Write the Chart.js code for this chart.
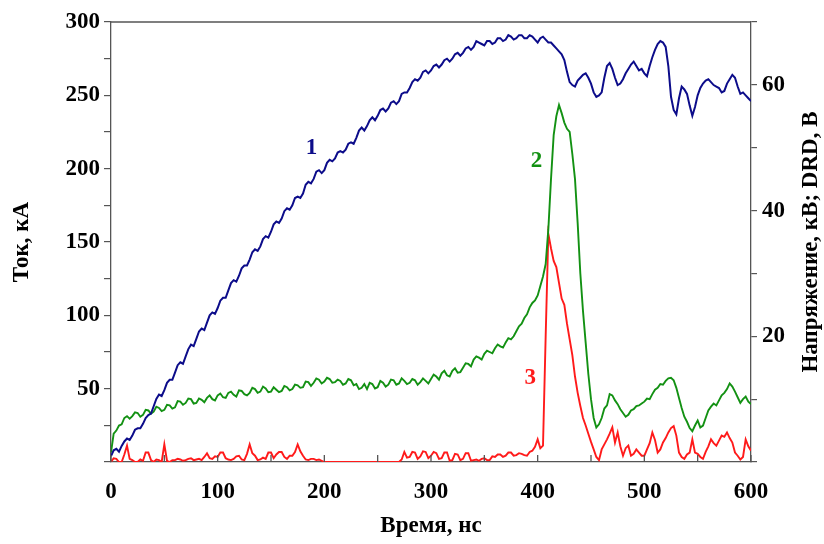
<!DOCTYPE html>
<html>
<head>
<meta charset="utf-8">
<script src="https://cdn.jsdelivr.net/npm/chart.js@4"></script>
<style>
  html, body { margin: 0; padding: 0; background: #fff; }
  #wrap { width: 824px; height: 544px; }
</style>
</head>
<body>
<div id="wrap"><canvas id="chart-area"></canvas></div>
<script>
/* time axis, ns (2.5 ns step) */
var time = [
  0, 2.5, 5, 7.5, 10, 12.5, 15, 17.5, 20, 22.5, 25, 27.5, 30, 32.5, 35, 37.5, 40, 42.5, 45, 47.5,
  50, 52.5, 55, 57.5, 60, 62.5, 65, 67.5, 70, 72.5, 75, 77.5, 80, 82.5, 85, 87.5, 90, 92.5, 95, 97.5,
  100, 102.5, 105, 107.5, 110, 112.5, 115, 117.5, 120, 122.5, 125, 127.5, 130, 132.5, 135, 137.5, 140, 142.5, 145, 147.5,
  150, 152.5, 155, 157.5, 160, 162.5, 165, 167.5, 170, 172.5, 175, 177.5, 180, 182.5, 185, 187.5, 190, 192.5, 195, 197.5,
  200, 202.5, 205, 207.5, 210, 212.5, 215, 217.5, 220, 222.5, 225, 227.5, 230, 232.5, 235, 237.5, 240, 242.5, 245, 247.5,
  250, 252.5, 255, 257.5, 260, 262.5, 265, 267.5, 270, 272.5, 275, 277.5, 280, 282.5, 285, 287.5, 290, 292.5, 295, 297.5,
  300, 302.5, 305, 307.5, 310, 312.5, 315, 317.5, 320, 322.5, 325, 327.5, 330, 332.5, 335, 337.5, 340, 342.5, 345, 347.5,
  350, 352.5, 355, 357.5, 360, 362.5, 365, 367.5, 370, 372.5, 375, 377.5, 380, 382.5, 385, 387.5, 390, 392.5, 395, 397.5,
  400, 402.5, 405, 407.5, 410, 412.5, 415, 417.5, 420, 422.5, 425, 427.5, 430, 432.5, 435, 437.5, 440, 442.5, 445, 447.5,
  450, 452.5, 455, 457.5, 460, 462.5, 465, 467.5, 470, 472.5, 475, 477.5, 480, 482.5, 485, 487.5, 490, 492.5, 495, 497.5,
  500, 502.5, 505, 507.5, 510, 512.5, 515, 517.5, 520, 522.5, 525, 527.5, 530, 532.5, 535, 537.5, 540, 542.5, 545, 547.5,
  550, 552.5, 555, 557.5, 560, 562.5, 565, 567.5, 570, 572.5, 575, 577.5, 580, 582.5, 585, 587.5, 590, 592.5, 595, 597.5,
  600
];

/* 1 - current, kA (left axis) */
var current = [
  4, 8, 9, 7, 11, 14, 16, 15, 18, 22, 23, 23, 26, 30, 32, 33, 38, 43, 46, 45,
  49, 54, 56, 56, 61, 66, 68, 67, 72, 77, 80, 79, 84, 89, 91, 90, 95, 100, 102, 101,
  105, 110, 112, 112, 117, 122, 124, 123, 127, 132, 134, 134, 138, 143, 145, 144, 147, 152, 154, 153,
  157, 162, 164, 163, 166, 171, 173, 172, 175, 180, 181, 180, 183, 189, 191, 190, 193, 198, 199, 197,
  199, 204, 206, 205, 207, 211, 212, 211, 213, 217, 218, 217, 221, 226, 228, 226, 229, 233, 235, 233,
  236, 240, 241, 239, 241, 245, 246, 244, 246, 251, 252, 252, 255, 259, 261, 260, 262, 266, 267, 265,
  267, 270, 271, 269, 271, 274, 275, 273, 275, 278, 279, 277, 279, 282, 283, 281, 283, 287, 286, 285,
  284, 287, 287, 285, 286, 289, 289, 287, 288, 291, 290, 288, 289, 291, 291, 289, 289, 291, 290, 288,
  286, 289, 290, 288, 286, 286, 284, 282, 280, 278, 274, 266, 259, 257, 256, 260, 262, 264, 265, 262,
  258, 252, 249, 250, 252, 262, 270, 272, 268, 262, 257, 258, 261, 265, 268, 271, 273, 270, 267, 268,
  265, 263, 270, 276, 281, 285, 287, 286, 283, 270, 249, 240, 237, 248, 256, 254, 251, 243, 236, 242,
  250, 255, 258, 260, 261, 259, 257, 256, 255, 252, 253, 258, 261, 264, 262, 256, 251, 252, 250, 248,
  246
];

/* 2 - voltage, kV (right axis) */
var voltage = [
  1.5, 4.5, 5, 5.8, 6, 7, 7.3, 6.9, 7.3, 7.9, 7.8, 7.2, 7.5, 8.3, 8.2, 7.7, 8, 8.8, 8.6, 8.1,
  8.3, 9.1, 9, 8.5, 8.7, 9.7, 9.6, 9.1, 9.4, 10.1, 10, 9.3, 9.4, 10.1, 9.9, 9.5, 10.2, 10.6, 10, 9.8,
  10.6, 10.9, 10.3, 10.2, 11, 11.2, 10.7, 10.4, 11.4, 11.3, 10.8, 10.6, 11, 11.8, 11.6, 11, 11.2, 12, 11.7, 11.1,
  11.2, 11.9, 11.5, 11.1, 11.3, 12.1, 11.9, 11.4, 11.6, 12.3, 12.2, 11.8, 11.9, 12.8, 12.7, 12.1, 12.6, 13.3, 13.1, 12.5,
  12.8, 13.4, 13.2, 12.6, 12.7, 13.1, 12.9, 12.3, 12.5, 13.2, 13, 12.2, 12.4, 11.6, 11.8, 12.4, 11.6, 12.6, 12.4, 11.7,
  11.9, 12.9, 12.6, 12, 12.3, 13.1, 13, 12.3, 12.5, 13.3, 12.9, 12.4, 12.6, 13.2, 13, 12.3, 12.7, 13.3, 12.9, 12.5,
  13.2, 13.9, 13.6, 13.1, 14.1, 14.5, 13.8, 13.6, 14.5, 14.9, 14.2, 14.3, 15, 15.7, 15.6, 15.2, 16.3, 16.8, 16.6, 16.3,
  17.2, 17.7, 17.5, 17.3, 18.1, 18.7, 18.4, 18.2, 19, 19.7, 19.5, 20, 20.8, 21.6, 22, 22.9, 23.5, 24.6, 25.3, 25.7,
  26.5, 28, 29.5, 31.5, 37, 45, 52, 55, 56.8, 55.5, 54, 53, 52.5, 49, 45, 38, 30, 24, 19, 14,
  10, 7, 5.5, 6, 7, 8.5, 9, 10.8, 10.6, 9.8, 9.2, 8.4, 7.8, 7.2, 7.5, 8.2, 8.4, 8.9, 9, 9.3,
  9.6, 10.1, 10, 10.8, 11.5, 11.8, 12.4, 12.3, 12.9, 13.3, 13.4, 13, 11.8, 10.2, 8.6, 7.2, 6.4, 5.4, 4.9, 5.8,
  6.6, 5.5, 5.8, 7, 8.2, 8.8, 9.3, 9, 9.8, 10.6, 11, 11.6, 12.5, 12, 11.2, 10.3, 9.4, 10, 10.4, 9.6,
  9.2
];

/* 3 - DRD, V (right axis) */
var drd = [
  0, 0.6, 0.5, 0, 0, 1.2, 2.6, 0.5, 0.3, 0, 0, 0.4, 0.2, 1.5, 1.5, 0.3, 0, 0.4, 0.3, 0,
  2.8, 0.2, 0, 0.3, 0.3, 0.5, 0.4, 0.2, 0.3, 0.5, 0.6, 0.3, 0.4, 0.5, 0.3, 0.8, 1.4, 0.6, 0.5, 0.9,
  0.8, 1.5, 1.5, 0.6, 0.4, 0.3, 0.5, 0.9, 1, 0.4, 0.3, 1.3, 2.8, 1.4, 1, 0.3, 0.4, 0.7, 0.5, 1.5,
  1.5, 0.6, 1.2, 1.6, 1.6, 0.8, 0.5, 1, 1, 1.6, 2.8, 1.7, 1, 0.4, 0.3, 0.5, 0.5, 0.3, 0.4, 0.2,
  0, 0, 0, 0, 0, 0, 0, 0, 0, 0, 0, 0, 0, 0, 0, 0, 0, 0, 0, 0,
  0, 0, 0, 0, 0, 0, 0, 0, 0, 0.4, 1.6, 0.7, 0.8, 1.6, 1.5, 0.5, 0.9, 1.7, 1.6, 0.6,
  1, 1.6, 1.4, 0.5, 0.6, 1.5, 1.5, 0.2, 0.3, 1.3, 1.2, 0.3, 0.5, 1.4, 1.4, 0.2, 0.3, 0.4, 0.2, 0.5,
  0.6, 0.3, 0.3, 0.9, 0.8, 1.2, 1.2, 0.8, 1, 1.5, 1.5, 1, 1.1, 1.4, 1.3, 1.1, 1, 1.6, 1.8, 2.4,
  3.6, 2.2, 2.6, 20, 36.3, 34, 32, 31, 28.5, 26, 25, 22, 19.5, 17, 13.6, 11, 8.9, 7, 5.8, 4.5,
  3.2, 2, 0.8, 0.3, 2, 2.8, 3.6, 4.5, 5.5, 3.1, 4.7, 2.5, 1, 2.2, 2.6, 1, 1.3, 2, 1.5, 1,
  1, 2, 3, 4.7, 3.5, 1.5, 2, 3.1, 3.8, 4.7, 5.4, 5.7, 4.2, 1.5, 0.8, 0.5, 1.2, 1.5, 3.6, 1.5,
  1.3, 0.8, 0.5, 1.6, 2.5, 3.6, 3, 2.6, 3.4, 4.2, 4, 4.7, 3.8, 3.1, 1.5, 1, 0.4, 0.8, 3.6, 2.5,
  1.8
];

/* curve numbers, placed in data units */
var notes = [
  { text: '1', t: 188, v: 214, axis: 'y',  color: '#0c0c8a' },
  { text: '2', t: 399, v: 47.9, axis: 'y1', color: '#139113' },
  { text: '3', t: 393, v: 13.4, axis: 'y1', color: '#ff1a1a' }
];

var FONT = 'Liberation Serif';
var AXIS = '#555';

var extras = {
    id: 'extras',
    afterDraw: function (chart) {
        var ctx = chart.ctx, a = chart.chartArea, sc = chart.scales;
        ctx.save();
        // top frame and inward ticks on time axis
        ctx.strokeStyle = AXIS;
        ctx.lineWidth = 1.3;
        ctx.beginPath();
        ctx.moveTo(a.left, a.top);
        ctx.lineTo(a.right, a.top);
        sc.x.ticks.forEach(function (tk) {
            var px = sc.x.getPixelForValue(tk.value);
            ctx.moveTo(px, a.bottom);
            ctx.lineTo(px, a.bottom - 7);
        });
        ctx.stroke();

        // curve numbers
        ctx.font = 'bold 23px "' + FONT + '"';
        ctx.textAlign = 'center';
        ctx.textBaseline = 'middle';
        notes.forEach(function (n) {
            ctx.fillStyle = n.color;
            ctx.fillText(n.text, sc.x.getPixelForValue(n.t), sc[n.axis].getPixelForValue(n.v));
        });

        // right axis title, reading bottom to top
        ctx.fillStyle = '#000';
        ctx.translate(811, (a.top + a.bottom) / 2);
        ctx.rotate(-Math.PI / 2);
        ctx.fillText('Напряжение, кВ; DRD, В', 0, 0);
        ctx.restore();
    }
};

var tickFont = { family: FONT, size: 23, weight: 'bold' };

var config = {
    type: 'line',
    data: {
        labels: time,
        datasets: [{
                label: '1',
                data: current,
                yAxisID: 'y',
                borderColor: '#0c0c8a',
                borderWidth: 2
            }, {
                label: '2',
                data: voltage,
                yAxisID: 'y1',
                borderColor: '#139113',
                borderWidth: 1.9
            }, {
                label: '3',
                data: drd,
                yAxisID: 'y1',
                borderColor: '#ff1a1a',
                borderWidth: 1.9
            }]
    },
    options: {
        responsive: true,
        maintainAspectRatio: false,
        animation: false,
        layout: { padding: { top: 22, left: 0, right: 0, bottom: 0 } },
        elements: { point: { radius: 0 }, line: { tension: 0 } },
        plugins: { legend: { display: false }, tooltip: { enabled: false } },
        scales: {
            x: {
                type: 'linear',
                min: 0,
                max: 600,
                afterFit: function (s) { s.height = 82; },
                border: { color: AXIS, width: 1.3 },
                grid: { display: false, drawTicks: false },
                ticks: {
                    stepSize: 50,
                    padding: 16,
                    color: '#000',
                    font: tickFont,
                    maxRotation: 0,
                    autoSkip: false,
                    callback: function (v) { return v % 100 === 0 ? v : ''; }
                },
                title: {
                    display: true,
                    text: 'Время, нс',
                    color: '#000',
                    font: tickFont,
                    padding: { top: 0, bottom: 4 }
                }
            },
            y: {
                position: 'left',
                min: 0,
                max: 300,
                afterFit: function (s) { s.width = 111; },
                border: { color: AXIS, width: 1.3 },
                grid: { drawOnChartArea: false, tickLength: 7, color: AXIS, lineWidth: 1.2 },
                ticks: {
                    stepSize: 25,
                    padding: 4,
                    color: '#000',
                    font: tickFont,
                    autoSkip: false,
                    callback: function (v) { return (v > 0 && v % 50 === 0) ? v : ''; }
                },
                title: {
                    display: true,
                    text: 'Ток, кА',
                    color: '#000',
                    font: tickFont,
                    padding: { top: 8, bottom: 0 }
                }
            },
            y1: {
                position: 'right',
                min: 0,
                max: 70,
                afterFit: function (s) { s.width = 73; },
                border: { color: AXIS, width: 1.3 },
                grid: { drawOnChartArea: false, tickLength: 6, color: AXIS, lineWidth: 1.2 },
                ticks: {
                    stepSize: 10,
                    padding: 5,
                    color: '#000',
                    font: tickFont,
                    autoSkip: false,
                    callback: function (v) { return (v > 0 && v % 20 === 0) ? v : ''; }
                }
            }
        }
    },
    plugins: [extras]
};

var ctx = document.getElementById("chart-area").getContext("2d");
var myChart = new Chart(ctx, config);
</script>
</body>
</html>
